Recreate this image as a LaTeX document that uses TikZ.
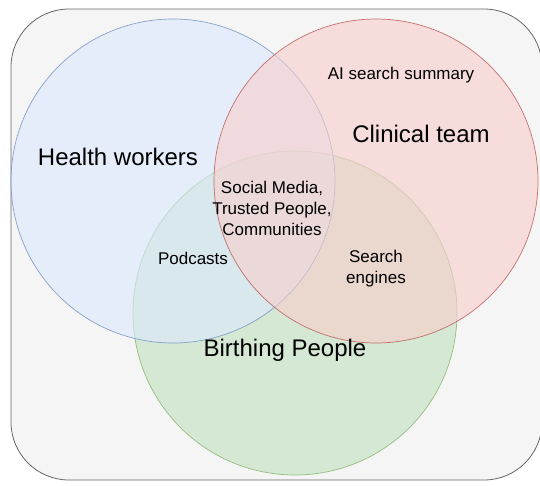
\documentclass[tikz,border=0pt]{standalone}
\usepackage{fontspec}
\setmainfont{Liberation Sans}
\usepackage{tikz}
\usetikzlibrary{positioning}
\definecolor{bgfill}{HTML}{F5F5F5}
\definecolor{bgline}{HTML}{666666}
\definecolor{bluefill}{HTML}{DAE8FC}
\definecolor{blueline}{HTML}{6C8EBF}
\definecolor{redfill}{HTML}{F8CECC}
\definecolor{redline}{HTML}{B85450}
\definecolor{greenfill}{HTML}{D5E8D4}
\definecolor{greenline}{HTML}{82B366}
\tikzset{
  set/.style={circle, minimum size=324pt, inner sep=0pt, line width=0.7pt,
    fill opacity=0.6, draw opacity=0.8},
  biglabel/.style={font=\fontsize{24}{28}\selectfont, align=center, inner sep=0pt},
  smalllabel/.style={font=\fontsize{17}{21}\selectfont, align=center, inner sep=0pt}
}
\begin{document}
\begin{tikzpicture}[x=1pt, y=-1pt]
    \useasboundingbox (0,0) rectangle (540,485);

    % Frame
    \draw[fill=bgfill, draw=bgline, line width=0.8pt, rounded corners=58pt] (11,9) rectangle (542,480);

    % Sets
    \node[set, fill=greenfill, draw=greenline, fill opacity=1] (birthing) at (295,313) {};
    \node[set, fill=bluefill, draw=blueline] (health) at (173,181) {};
    \node[set, fill=redfill, draw=redline] (clinical) at (376,181) {};

    % Set names
    \node[biglabel] (healthname) at (118,157) {Health workers};
    \node[biglabel] (clinicalname) at (421,134) {Clinical team};
    \node[biglabel] (birthingname) at (285,350) {Birthing People};

    % Sources
    \node[smalllabel] (aisummary) at (401,75) {AI search summary};
    \node[smalllabel] (social) at (272,208) {Social Media,\\Trusted People,\\Communities};
    \node[smalllabel] (podcasts) at (193,258) {Podcasts};
    \node[smalllabel] (search) at (376,269) {Search\\engines};
\end{tikzpicture}
\end{document}
